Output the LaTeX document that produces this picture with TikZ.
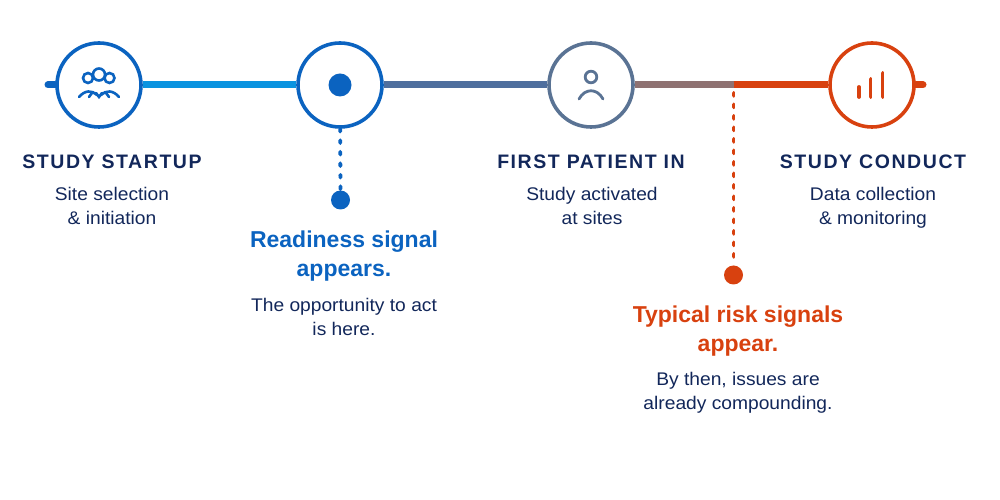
\documentclass[tikz,border=0pt]{standalone}
\usepackage{fontspec}
\setmainfont[FakeStretch=1.05]{Liberation Sans}
\newfontfamily\signalfont{Liberation Sans}
\newfontfamily\headfont[LetterSpace=8]{Liberation Sans}
\usetikzlibrary{positioning}
\definecolor{navy}{HTML}{12275A}
\definecolor{blueline}{HTML}{0B63C0}
\definecolor{skyline}{HTML}{0A93E0}
\definecolor{slateline}{HTML}{5A7394}
\definecolor{steelline}{HTML}{4F6F9E}
\definecolor{mauveline}{HTML}{8F7272}
\definecolor{redline}{HTML}{D8410F}
\begin{document}
\begin{tikzpicture} [
        x=1pt, y=1pt,
        stage/.style={draw=#1, circle, line width=3.6pt, fill=white, minimum size=84pt, inner sep=0pt},
        track/.style={line width=7pt, draw=#1},
        stub/.style={line width=7pt, draw=#1, line cap=round},
        dotted line/.style={draw=#1, line width=3.8pt, line cap=round, dash pattern=on 2.8pt off 8.7pt},
        marker/.style={circle, fill=#1, minimum size=19pt, inner sep=0pt},
        icon/.style={draw=#1, line width=2.6pt, line cap=round},
        title/.style={font=\fontsize{19.5}{22}\headfont\bfseries, text=navy, anchor=center},
        body/.style={font=\fontsize{18.3}{24}\selectfont, text=navy, align=center, anchor=center},
        signal/.style={font=\fontsize{23}{29}\signalfont\bfseries, text=#1, align=center, anchor=center},
        node distance=241pt ]
    \useasboundingbox (0,0) rectangle (1000,500);
    \coordinate (left end) at (48,415);
    \node[stage=blueline] (q1) at (99,415) {};
    \node[stage=blueline, right of=q1] (q2) {};
    \node[stage=slateline, right of=q2, node distance=251pt] (q3) {};
    \node[stage=redline, right of=q3, node distance=281pt] (q4) {};
    \coordinate[right of=q4, node distance=51pt] (right end);
    \coordinate (risk start) at (733.5,415);
    \draw[stub=blueline] (left end) -- (q1);
    \draw[track=skyline] (q1) -- (q2);
    \draw[track=steelline] (q2) -- (q3);
    \draw[track=mauveline] (q3) -- (risk start);
    \draw[track=redline] (risk start) -- (q4);
    \draw[stub=redline] (q4) -- (right end);
    \node[marker=blueline] (d2) at (340.5,300) {};
    \node[marker=redline] (d3) at (733.5,225) {};
    \draw[dotted line=blueline] (q2) -- (d2);
    \draw[dotted line=redline] (risk start) ++(0,-8) -- (d3);
    % icons
    \node[marker=blueline, minimum size=23pt] (core) at (q2) {};
    \begin{scope}[shift={(q1)}]
        \draw[icon=blueline] (-11,7) circle (5) (0,10.5) circle (6) (10.5,7) circle (5);
        \draw[icon=blueline] (-20,-12) .. controls (-14,-5) and (-7,-5) .. (-2,-10);
        \draw[icon=blueline] (20,-12) .. controls (14,-5) and (7,-5) .. (2,-10);
        \draw[icon=blueline] (-10,-12) -- (-7,-8) (10,-12) -- (7,-8) (-3,-8) -- (0,-12) -- (3,-8);
    \end{scope}
    \begin{scope}[shift={(q3)}]
        \draw[icon=slateline, line width=2.8pt] (0,8) circle (5.8);
        \draw[icon=slateline, line width=2.8pt] (-12,-14) .. controls (-6,-3) and (6,-3) .. (12,-14);
    \end{scope}
    \begin{scope}[shift={(q4)}]
        \draw[icon=redline, line width=3.8pt] (-13,-12) -- (-13,-2) (-1.5,-12) -- (-1.5,6) (10.5,-12) -- (10.5,12);
    \end{scope}
    % labels
    \node[title] (t1) at (112,338.5) {STUDY STARTUP};
    \node[body] (b1) at (112,294.5) {Site selection\\\& initiation};
    \node[title] (t3) at (591,338.5) {FIRST PATIENT IN};
    \node[body] (b3) at (592,294) {Study activated\\at sites};
    \node[title] (t4) at (873,338.5) {STUDY CONDUCT};
    \node[body] (b4) at (873,292) {Data collection\\\& monitoring};
    \node[signal=blueline] (s2) at (344,244) {Readiness signal\\appears.};
    \node[body] (b2) at (344,183) {The opportunity to act\\is here.};
    \node[signal=redline] (s3) at (738,169) {Typical risk signals\\appear.};
    \node[body] (b5) at (738,107) {By then, issues are\\already compounding.};
\end{tikzpicture}
\end{document}
